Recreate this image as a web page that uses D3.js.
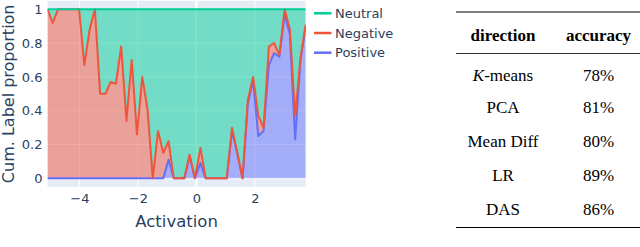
<!DOCTYPE html>
<html><head><meta charset="utf-8">
<script src="https://cdn.jsdelivr.net/npm/d3@7"></script>
<style>body{margin:0;background:#fff}svg{display:block}</style>
</head><body><svg id="c" width="640" height="247"></svg>
<script>
// ---- data ----
const activation = [-5.09,-4.91,-4.73,-4.55,-4.37,-4.19,-4.01,-3.83,-3.65,-3.47,
  -3.29,-3.11,-2.93,-2.75,-2.57,-2.39,-2.21,-2.03,-1.85,-1.67,
  -1.49,-1.31,-1.13,-0.95,-0.77,-0.59,-0.41,-0.23,-0.05,0.14,
  0.32,0.50,0.68,0.86,1.04,1.22,1.40,1.58,1.76,1.94,
  2.12,2.30,2.48,2.66,2.84,3.02,3.20,3.38,3.56,3.74];
const positive = [0,0,0,0,0,0,0,0,0,0,
  0,0,0,0,0,0,0,0,0,0,
  0,0,0,0.11,0,0,0,0.13,0,0.09,
  0,0,0,0,0,0.28,0.15,0,0.44,0.58,
  0.25,0.28,0.67,0.74,0.72,0.97,0.85,0.23,0.70,0.90];
const negative = [1,0.92,1,1,1,1,1,0.67,0.88,1,
  0.5,0.5,0.57,0.56,0.78,0.34,0.70,0.26,0.60,0.41,
  0,0.28,0.15,0.11,0,0,0,0.01,0,0.09,
  0,0,0,0,0,0.02,0,0,0.02,0.02,
  0.12,0.02,0.11,0.06,0.01,0.03,0.03,0.14,0.01,0.01];
const neutral = [0,0.08,0,0,0,0,0,0.33,0.12,0,
  0.5,0.5,0.43,0.44,0.22,0.66,0.30,0.74,0.40,0.59,
  1,0.72,0.85,0.78,1,1,1,0.86,1,0.82,
  1,1,1,1,1,0.70,0.85,1,0.54,0.40,
  0.63,0.70,0.22,0.20,0.27,0,0.12,0.63,0.29,0.09];
const seriesNames = ["Positive","Negative","Neutral"];
const legendOrder = ["Neutral","Negative","Positive"];
const seriesColors = {Positive:"#636efa", Negative:"#EF553B", Neutral:"#00cc96"};
const xTicks = [-4,-2,0,2];
const yTicks = [0,0.2,0.4,0.6,0.8,1];
const xTitle = "Activation";
const yTitle = "Cum. Label proportion";
const tableHeader = ["direction","accuracy"];
const methods = ["K-means","PCA","Mean Diff","LR","DAS"];
const accuracy = ["78%","81%","80%","89%","86%"];

// ---- layout ----
const svg = d3.select("#c");
const L = 47.5, R = 305.7, T = 0.85, B = 186.8;
const x = d3.scaleLinear().domain([-5.09, 3.74]).range([L, R]);
const y = d3.scaleLinear().domain([-0.05, 1.05]).range([B, T]);
const fontSans = "'DejaVu Sans', Verdana, sans-serif";
const txt = "#2a3f5f";

svg.append("defs").append("clipPath").attr("id","clip")
  .append("rect").attr("x",L).attr("y",T).attr("width",R-L).attr("height",B-T);

svg.append("rect").attr("x",L).attr("y",T).attr("width",R-L).attr("height",B-T).attr("fill","#E5ECF6");

const grid = svg.append("g");
grid.selectAll(".gx").data(xTicks).join("line")
  .attr("x1",d=>x(d)).attr("x2",d=>x(d)).attr("y1",T).attr("y2",B)
  .attr("stroke","#fff").attr("stroke-width",d=>d===0?2:1);
grid.selectAll(".gy").data(yTicks).join("line")
  .attr("x1",L).attr("x2",R).attr("y1",d=>y(d)).attr("y2",d=>y(d))
  .attr("stroke","#fff").attr("stroke-width",d=>d===0?2:1);

const rows = activation.map((a,i)=>({x:a, Positive:positive[i], Negative:negative[i], Neutral:neutral[i]}));
const stacked = d3.stack().keys(seriesNames)(rows);

const plot = svg.append("g").attr("clip-path","url(#clip)");
const area = d3.area().x(d=>x(d.data.x)).y0(d=>y(d[0])).y1(d=>y(d[1]));
const line = d3.line().x(d=>x(d.data.x)).y(d=>y(d[1]));
plot.selectAll(".area").data(stacked).join("path")
  .attr("d",area).attr("fill",s=>seriesColors[s.key]).attr("fill-opacity",0.5);
plot.selectAll(".ln").data(stacked).join("path")
  .attr("d",line).attr("fill","none").attr("stroke",s=>seriesColors[s.key])
  .attr("stroke-width",2).attr("stroke-linejoin","round");

// axes
const xAxis = svg.append("g").attr("transform",`translate(0,${B})`)
  .call(d3.axisBottom(x).tickValues(xTicks).tickSize(0).tickPadding(7));
const yAxis = svg.append("g").attr("transform",`translate(${L},0)`)
  .call(d3.axisLeft(y).tickValues(yTicks).tickSize(0).tickPadding(5).tickFormat(d3.format("~g")));
[xAxis,yAxis].forEach(g=>{
  g.select(".domain").remove();
  g.selectAll("text").attr("fill",txt).style("font-family",fontSans).style("font-size","13px");
});

svg.append("text").attr("x",(L+R)/2).attr("y",226.5).attr("text-anchor","middle")
  .attr("fill",txt).style("font-family",fontSans).style("font-size","16.5px").text(xTitle);
svg.append("text").attr("transform",`translate(14,${(T+B)/2}) rotate(-90)`).attr("text-anchor","middle")
  .attr("fill",txt).style("font-family",fontSans).style("font-size","16px").text(yTitle);

// legend
const lg = svg.append("g").selectAll("g").data(legendOrder).join("g")
  .attr("transform",(d,i)=>`translate(314,${13.3+i*19.7})`);
lg.append("line").attr("x1",0).attr("x2",17.5).attr("y1",0).attr("y2",0)
  .attr("stroke",d=>seriesColors[d]).attr("stroke-width",2.5);
lg.append("text").attr("x",21).attr("y",0).attr("dy","0.35em").attr("fill",txt)
  .style("font-family",fontSans).style("font-size","13px").text(d=>d);

// table
const serif = "'Liberation Serif','Times New Roman',serif";
const colX = [503, 598.5];
const tb = svg.append("g").style("font-family",serif).style("font-size","17px").attr("fill","#000");
tb.append("line").attr("x1",456).attr("x2",640).attr("y1",12).attr("y2",12).attr("stroke","#000").attr("stroke-width",1.2);
tb.append("line").attr("x1",456).attr("x2",640).attr("y1",53.5).attr("y2",53.5).attr("stroke","#000").attr("stroke-width",0.8);
tb.append("line").attr("x1",456).attr("x2",640).attr("y1",227.5).attr("y2",227.5).attr("stroke","#000").attr("stroke-width",1.2);
tb.selectAll(".h").data(tableHeader).join("text").attr("x",(d,i)=>colX[i]).attr("y",41)
  .attr("text-anchor","middle").style("font-weight","bold").text(d=>d);
const rowY = [81,113,147,181,215];
tb.selectAll(".m").data(methods).join("text").attr("x",colX[0]).attr("y",(d,i)=>rowY[i])
  .attr("text-anchor","middle")
  .each(function(d){
    const t = d3.select(this);
    if (d.startsWith("K-")) {
      t.append("tspan").style("font-style","italic").text("K");
      t.append("tspan").text(d.slice(1));
    } else t.text(d);
  });
tb.selectAll(".a").data(accuracy).join("text").attr("x",colX[1]).attr("y",(d,i)=>rowY[i])
  .attr("text-anchor","middle").text(d=>d);
</script></body></html>
